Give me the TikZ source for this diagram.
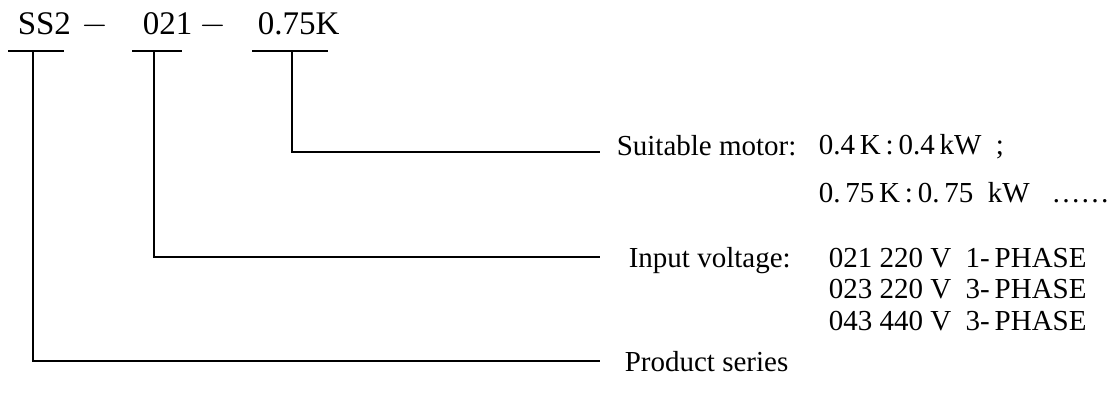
\documentclass[tikz,border=0pt]{standalone}
\usepackage{fontspec}
\setmainfont{Liberation Serif}
\usetikzlibrary{positioning}

\begin{document}
\begin{tikzpicture}[x=0.5pt,y=-0.5pt,line width=0.8pt,
    txt/.style={inner sep=0pt,font=\fontsize{14.5}{17}\selectfont},
    lbl/.style={txt,anchor=base west},
    code/.style={lbl,font=\fontsize{16.5}{19}\selectfont}]
        \useasboundingbox (0,0) rectangle (1115,403);
        % model code
        \node[code] (ser) at (17,34) {SS2};
        \node[code] (dasha) at (81,34) {$-$};
        \node[code] (volt) at (142,34) {021};
        \node[code] (dashb) at (199,34) {$-$};
        \node[code] (mot) at (257,34) {0.75K};
        \draw (8,51) -- (64,51);
        \draw (132,51) -- (182,51);
        \draw (252,51) -- (328,51);
        \coordinate (userie) at (33,51);
        \coordinate (uvolt) at (154,51);
        \coordinate (umot) at (292,51);
        % explanations
        \node[lbl] (lmot) at (616,155) {Suitable motor:};
        \node[lbl] (mota) at (818,154) {0.4\,K\,:\,0.4\,kW\ \ ;};
        \node[lbl] (motb) at (818,202) {0.\,75\,K\,:\,0.\,75\ \ kW\ \ \ ……};
        \node[lbl] (lvolt) at (628,267) {Input voltage:};
        \node[lbl] (volta) at (828,267) {021 220 V\ \ 1-\,PHASE};
        \node[lbl] (voltb) at (828,298) {023 220 V\ \ 3-\,PHASE};
        \node[lbl] (voltc) at (828,330) {043 440 V\ \ 3-\,PHASE};
        \node[lbl] (lser) at (624,371) {Product series};
        \coordinate (emot) at (600,152);
        \coordinate (evolt) at (600,257);
        \coordinate (eser) at (600,361);
        \draw (umot) |- (emot);
        \draw (uvolt) |- (evolt);
        \draw (userie) |- (eser);
    \end{tikzpicture}
\end{document}
